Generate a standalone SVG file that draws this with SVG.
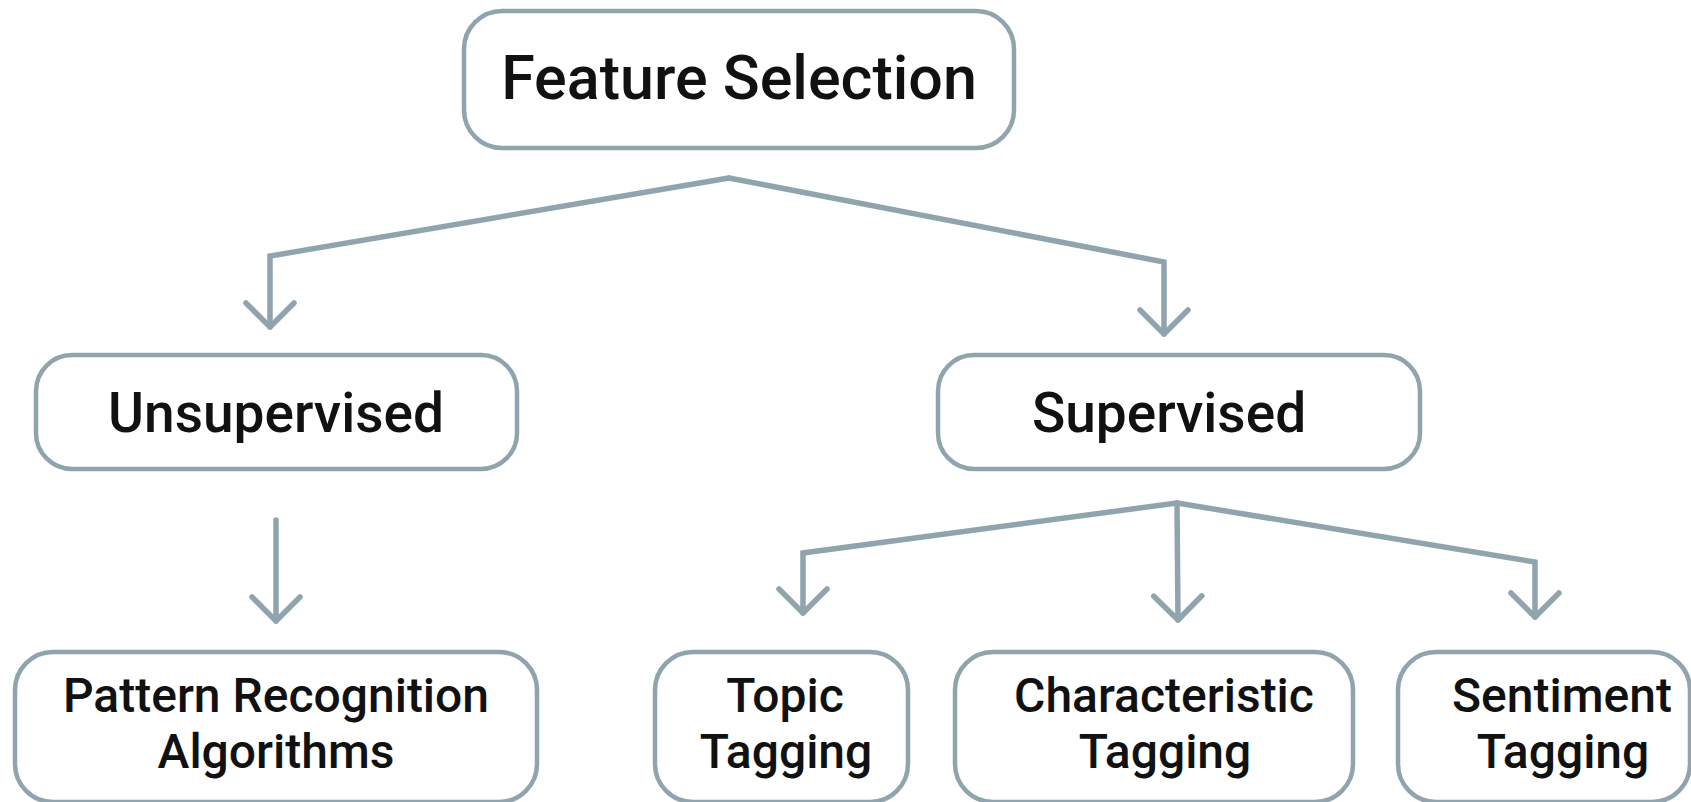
<svg xmlns="http://www.w3.org/2000/svg" width="1691" height="802" viewBox="0 0 1691 802">
  <style>
    .box { fill: #ffffff; stroke: #90a4ae; stroke-width: 4.5; }
    .label { font-family: Roboto, "Liberation Sans", sans-serif; font-weight: 500; fill: #111111; text-anchor: middle; }
    .l1 { font-size: 61px; }
    .l2 { font-size: 55px; }
    .l3 { font-size: 48px; }
    .edge { fill: none; stroke: #90a4ae; stroke-width: 5.5; stroke-linecap: round; stroke-linejoin: miter; marker-end: url(#chevron); }
  </style>
  <defs>
    <!-- open chevron arrowhead, tip at the path end -->
    <marker id="chevron" markerUnits="userSpaceOnUse" viewBox="-30 -30 60 60" markerWidth="60" markerHeight="60" refX="0" refY="0" orient="auto" overflow="visible">
      <path d="M-24,-24 L0,0 L-24,24" fill="none" stroke="#90a4ae" stroke-width="5.5" stroke-linecap="round" stroke-linejoin="round"/>
    </marker>
  </defs>
  <rect width="1691" height="802" fill="#ffffff"/>

  <g id="connectors">
    <path class="edge" d="M729,178 L270,256 L270,327"/>
    <path class="edge" d="M729,178 L1164,262 L1164,334"/>
    <path class="edge" d="M276,520 L276,621"/>
    <path class="edge" d="M1177,503 L803,553 L803,613"/>
    <path class="edge" d="M1177,503 L1178,620"/>
    <path class="edge" d="M1177,503 L1535,562 L1535,617"/>
  </g>

  <g id="feature-selection">
    <rect class="box" x="464" y="11" width="550" height="137" rx="38"/>
    <text class="label l1" x="739" y="99">Feature Selection</text>
  </g>

  <g id="unsupervised">
    <rect class="box" x="36" y="355" width="481" height="114" rx="36"/>
    <text class="label l2" x="276" y="432">Unsupervised</text>
  </g>

  <g id="supervised">
    <rect class="box" x="938" y="355" width="482" height="114" rx="36"/>
    <text class="label l2" x="1169" y="432">Supervised</text>
  </g>

  <!-- bottom row runs off the lower edge of the canvas -->
  <g id="pattern-recognition">
    <rect class="box" x="15" y="652" width="522" height="150" rx="38"/>
    <text class="label l3" x="276" y="712">Pattern Recognition</text>
    <text class="label l3" x="276" y="768">Algorithms</text>
  </g>

  <g id="topic-tagging">
    <rect class="box" x="655" y="652" width="253" height="150" rx="38"/>
    <text class="label l3" x="785" y="712">Topic</text>
    <text class="label l3" x="786" y="768">Tagging</text>
  </g>

  <g id="characteristic-tagging">
    <rect class="box" x="955" y="652" width="398" height="150" rx="38"/>
    <text class="label l3" x="1164" y="712">Characteristic</text>
    <text class="label l3" x="1165" y="768">Tagging</text>
  </g>

  <g id="sentiment-tagging">
    <rect class="box" x="1398" y="652" width="292" height="150" rx="38"/>
    <text class="label l3" x="1562" y="712">Sentiment</text>
    <text class="label l3" x="1563" y="768">Tagging</text>
  </g>
</svg>
